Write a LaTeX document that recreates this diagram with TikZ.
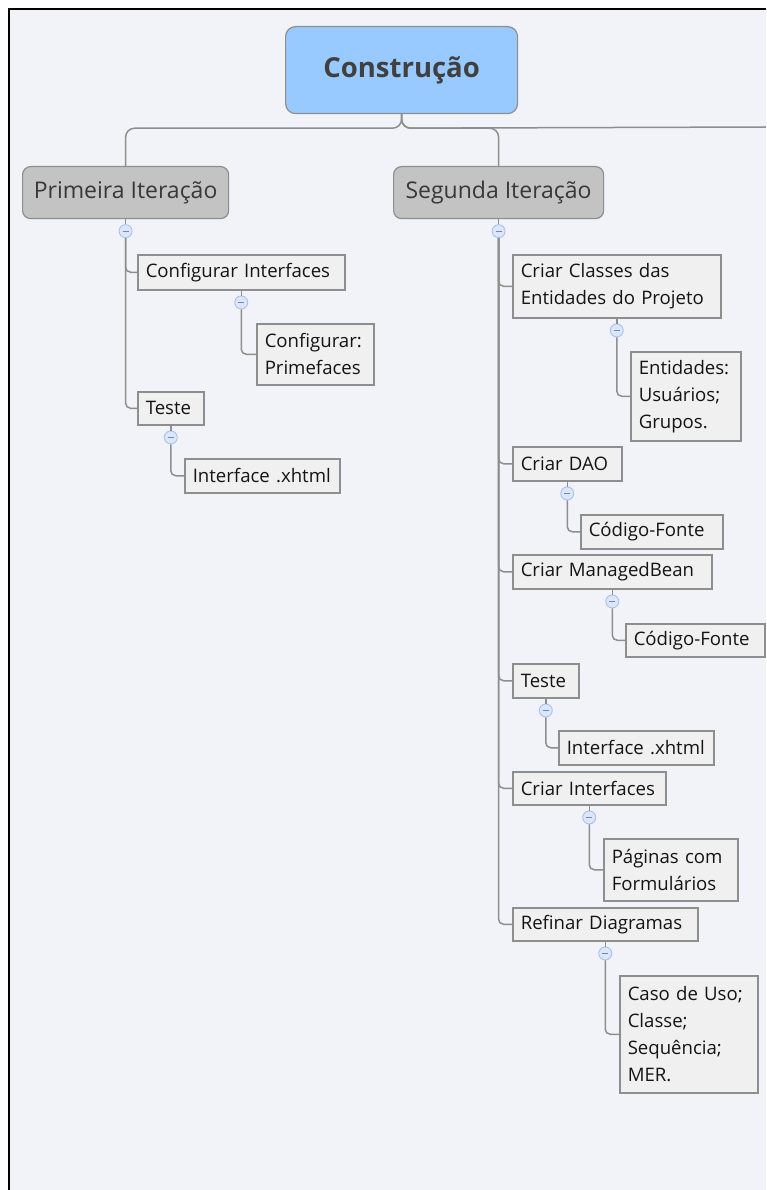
\documentclass[tikz,border=0pt]{standalone}
\usepackage{fontspec}
\setmainfont{Open Sans}
\usetikzlibrary{positioning}

\definecolor{canvas}{HTML}{F2F3F8}
\definecolor{rootfill}{HTML}{99CAFF}
\definecolor{iterfill}{HTML}{C3C3C3}
\definecolor{topicfill}{HTML}{F0F0F0}
\definecolor{edge}{HTML}{8E8E8E}
\definecolor{togfill}{HTML}{DCE6FB}
\definecolor{togline}{HTML}{A8C2F0}
\definecolor{ink}{HTML}{141414}
\definecolor{rootink}{HTML}{404040}
\definecolor{iterink}{HTML}{383838}

% one unbreakable line of topic text
\newcommand\tl[1]{\mbox{#1}}

\tikzset{
  rootbox/.style={draw=edge, line width=1.2, fill=rootfill, rounded corners=10,
    anchor=north west, minimum width=232, minimum height=87, inner sep=0,
    font=\bfseries\fontsize{27.5}{32}\selectfont, text=rootink},
  iterbox/.style={draw=edge, line width=1.2, fill=iterfill, rounded corners=8,
    anchor=north west, minimum height=52, inner sep=0,
    font=\fontsize{23}{28}\selectfont, text=iterink},
  topic/.style={draw=edge, line width=1.5, fill=topicfill, anchor=north west,
    inner xsep=8, inner ysep=0, align=left,
    font=\fontsize{18.6}{27}\selectfont, text=ink},
  tog/.style={circle, draw=togline, fill=togfill, line width=0.9, minimum size=13,
    inner sep=0, below=5pt of #1,
    path picture={\draw[togline!70!black, line width=1]
      ([xshift=-3pt]path picture bounding box.center) --
      ([xshift=3pt]path picture bounding box.center);}},
  conn/.style={draw=edge, line width=1.5, rounded corners=5},
  trunk/.style={draw=edge, line width=1.5, rounded corners=9},
}

\begin{document}
\begin{tikzpicture}[x=1pt, y=-1pt]
  \useasboundingbox (0,0) rectangle (766,1190);
  % page and frame
  \fill[white] (0,0) rectangle (766,1190);
  \fill[canvas] (9,10) rectangle (766,1190);
  \draw[black, line width=2] (8.5,1190) -- (8.5,9.5) -- (766,9.5);

  % central topic and the two iterations
  \node[rootbox] (root) at (285,26) {Construção};
  \node[iterbox, minimum width=206] (prim) at (22,166) {Primeira Iteração};
  \node[iterbox, minimum width=210] (seg) at (393,166) {Segunda Iteração};
  \coordinate (third) at (766,127);

  % first iteration
  \node[topic, text width=191, minimum height=35] (ci1) at (137,254) {\tl{Configurar Interfaces}};
  \node[topic, text width=101, minimum height=61] (pf) at (256,323) {\tl{Configurar:}\\\tl{Primefaces}};
  \node[topic, text width=50, minimum height=33] (te1) at (137,391) {\tl{Teste}};
  \node[topic, text width=139, minimum height=34] (xh1) at (184,458) {\tl{Interface .xhtml}};

  % second iteration
  \node[topic, text width=192, minimum height=63] (cc) at (512,254) {\tl{Criar Classes das}\\\tl{Entidades do Projeto}};
  \node[topic, text width=94, minimum height=89] (ent) at (630,351) {\tl{Entidades:}\\\tl{Usuários;}\\\tl{Grupos.}};
  \node[topic, text width=93, minimum height=34] (dao) at (512,446) {\tl{Criar DAO}};
  \node[topic, text width=126, minimum height=34] (cf1) at (580,514) {\tl{Código-Fonte}};
  \node[topic, text width=183, minimum height=34] (mb) at (512,554) {\tl{Criar ManagedBean}};
  \node[topic, text width=123, minimum height=33] (cf2) at (625,623) {\tl{Código-Fonte}};
  \node[topic, text width=50, minimum height=34] (te2) at (512,663) {\tl{Teste}};
  \node[topic, text width=139, minimum height=34] (xh2) at (558,730) {\tl{Interface .xhtml}};
  \node[topic, text width=137, minimum height=33] (cint) at (512,771) {\tl{Criar Interfaces}};
  \node[topic, text width=118, minimum height=62] (pag) at (603,838) {\tl{Páginas com}\\\tl{Formulários}};
  \node[topic, text width=169, minimum height=33] (ref) at (512,907) {\tl{Refinar Diagramas}};
  \node[topic, text width=122, minimum height=117] (uml) at (619,975) {\tl{Caso de Uso;}\\\tl{Classe;}\\\tl{Sequência;}\\\tl{MER.}};

  % collapse toggles under each parent
  \node[tog=prim] (tprim) {};
  \node[tog=seg] (tseg) {};
  \node[tog=ci1] (tci1) {};
  \node[tog=te1] (tte1) {};
  \node[tog=cc] (tcc) {};
  \node[tog=dao] (tdao) {};
  \node[tog=mb] (tmb) {};
  \node[tog=te2] (tte2) {};
  \node[tog=cint] (tcint) {};
  \node[tog=ref] (tref) {};

  % trunk from the central topic
  \draw[trunk] (root.south) -- ++(0,14) -| (prim.north);
  \draw[trunk] (root.south) -- ++(0,14) -| (seg.north);
  \draw[trunk] (root.south) -- ++(0,14) -- (third);

  % parent to toggle
  \foreach \p/\t in {prim/tprim, seg/tseg, ci1/tci1, te1/tte1, cc/tcc, dao/tdao,
                     mb/tmb, te2/tte2, cint/tcint, ref/tref}
    \draw[conn] (\p.south) -- (\t.north);

  % toggle to children
  \foreach \t/\c in {tprim/ci1, tprim/te1, tci1/pf, tte1/xh1,
                     tseg/cc, tseg/dao, tseg/mb, tseg/te2, tseg/cint, tseg/ref,
                     tcc/ent, tdao/cf1, tmb/cf2, tte2/xh2, tcint/pag, tref/uml}
    \draw[conn] (\t.south) |- (\c.west);
\end{tikzpicture}
\end{document}
